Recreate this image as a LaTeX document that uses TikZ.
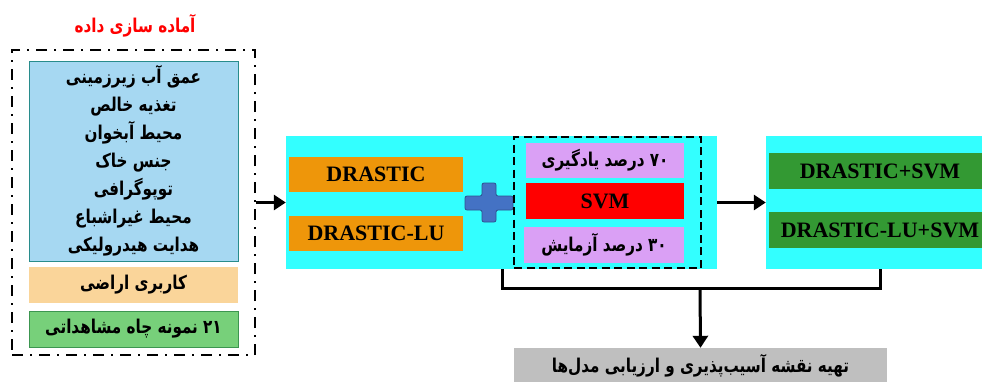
\documentclass[tikz,border=0pt]{standalone}
\usepackage{fontspec}
\setmainfont{Liberation Serif}
\newfontfamily\farsi[Script=Arabic, FakeStretch=0.8]{DejaVu Sans}
\TeXXeTstate=1
\usetikzlibrary{arrows.meta}

\definecolor{skyfill}{RGB}{166,216,242}
\definecolor{skyline}{RGB}{40,140,140}
\definecolor{peach}{RGB}{250,213,154}
\definecolor{leaf}{RGB}{119,208,122}
\definecolor{leafline}{RGB}{60,150,80}
\definecolor{aqua}{RGB}{51,255,255}
\definecolor{amber}{RGB}{238,150,10}
\definecolor{lilac}{RGB}{218,160,245}
\definecolor{forest}{RGB}{51,153,51}
\definecolor{plusblue}{RGB}{68,114,196}
\definecolor{plusline}{RGB}{47,82,143}
\definecolor{greybox}{RGB}{191,191,191}

\tikzset{
  fa/.style={font=\farsi\bfseries\fontsize{19}{28}\selectfont},
  en/.style={font=\bfseries\fontsize{22}{24}\selectfont},
  panel/.style={draw=none, inner sep=0pt},
  strip/.style={panel, minimum width=#1, minimum height=36pt},
  flow/.style={line width=3pt, -{Triangle[length=12pt,width=15pt]}},
  link/.style={line width=3pt},
}

\begin{document}
\begin{tikzpicture}[x=1pt, y=-1pt]
		%%%%% START %%%%%
		\useasboundingbox (0,0) rectangle (982,381);
		\clip (0,0) rectangle (982,381);
		
		% data preparation
		\node[fa, text=red] (title) at (135,26) {\beginR آماده سازی داده\endR};
		\node[panel, draw=black, line width=2pt, dash pattern=on 11pt off 7pt on 2pt off 7pt,
		      minimum width=243pt, minimum height=305pt] (prep) at (133.5,202.5) {};
		\node[panel, fa, fill=skyfill, draw=skyline, line width=1pt, align=center,
		      minimum width=209pt, minimum height=200pt] (factors) at (133.5,161)
		  {\beginR عمق آب زیرزمینی\endR\\\beginR تغذیه خالص\endR\\\beginR محیط آبخوان\endR\\
		   \beginR جنس خاک\endR\\\beginR توپوگرافی\endR\\\beginR محیط غیراشباع\endR\\
		   \beginR هدایت هیدرولیکی\endR};
		\node[strip=209pt, fa, fill=peach] (landuse) at (133.5,285) {\beginR کاربری اراضی\endR};
		\node[strip=209pt, fa, fill=leaf, draw=leafline, line width=1pt] (wells) at (133.5,329)
		  {\beginR ۲۱ نمونه چاه مشاهداتی\endR};
		
		% models
		\node[panel, fill=aqua, minimum width=431pt, minimum height=133pt] (model) at (501.5,202.5) {};
		\node[strip=174pt, en, fill=amber, minimum height=35pt] (drastic) at (376,174.5) {DRASTIC};
		\node[strip=174pt, en, fill=amber, minimum height=35pt] (drasticlu) at (376,233.5) {DRASTIC-LU};
		\filldraw[fill=plusblue, draw=plusline, line width=0.8pt, rounded corners=2pt]
		  (465,196) -- (482,196) -- (482,183) -- (496,183) -- (496,196) -- (513,196) -- (513,210)
		  -- (496,210) -- (496,222) -- (482,222) -- (482,210) -- (465,210) -- cycle;
		\node[panel, draw=black, line width=2pt, dash pattern=on 8pt off 4.5pt,
		      minimum width=187pt, minimum height=131pt] (svmbox) at (607.5,202.5) {};
		\node[strip=158pt, fa, fill=lilac, minimum height=35pt] (train) at (605,160.5) {\beginR ۷۰ درصد یادگیری\endR};
		\node[strip=158pt, en, fill=red] (svm) at (605,201) {SVM};
		\node[strip=160pt, fa, fill=lilac] (test) at (604,245) {\beginR ۳۰ درصد آزمایش\endR};
		
		% results
		\node[panel, fill=aqua, minimum width=234pt, minimum height=133pt] (result) at (883,202.5) {};
		\node[strip=222pt, en, fill=forest] (drasticsvm) at (880,171) {DRASTIC+SVM};
		\node[strip=222pt, en, fill=forest] (drasticlusvm) at (880,230) {DRASTIC-LU+SVM};
		\node[panel, fa, fill=greybox, minimum width=373pt, minimum height=44pt] (mapping) at (700.5,370) {};
		\node[fa] (maptext) at (700.5,366) {\beginR تهیه نقشه آسیب‌پذیری و ارزیابی مدل‌ها\endR};
		
		% connectors
		\coordinate (forkl) at (502,288);
		\coordinate (forkr) at (880,288);
		\coordinate (fork) at (700,288);
		\draw[flow] (prep.east) -- (model.west);
		\draw[flow] (model.east) -- (result.west);
		\draw[link] (model.south -| forkl) -- (forkl) -- (forkr) -- (result.south -| forkr);
		\draw[flow] (fork) -- (mapping.north);
		%%%%% END %%%%%
	\end{tikzpicture}
\end{document}
